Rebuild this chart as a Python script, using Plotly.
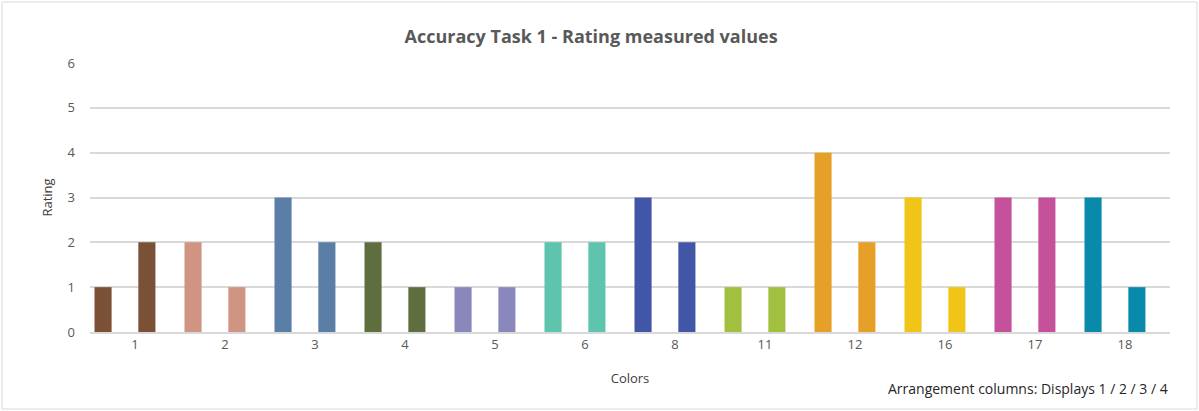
"""Accuracy Task 1 - rating bars per color"""

import plotly.graph_objects as go

colors = ["1", "2", "3", "4", "5", "6", "8", "11", "12", "16", "17", "18"]
display_a = [1, 2, 3, 2, 1, 2, 3, 1, 4, 3, 3, 3]
display_b = [2, 1, 2, 1, 1, 2, 2, 1, 2, 1, 3, 1]
bar_colors = [
    "#7a5036", "#d09483", "#5a7ea6", "#5f6e3f", "#8a87bd", "#5ec4ae",
    "#4256a8", "#a2c03f", "#e7a027", "#f0c518", "#c5519a", "#0a8aab",
]

font = "Open Sans"
grey = "#595959"

fig = go.Figure()

# two bars per color, sitting in slots 1 and 3 of a 4-slot group
fig.add_trace(
    go.Bar(
        x=colors,
        y=display_a,
        marker=dict(color=bar_colors, line=dict(width=0)),
        offset=-0.45,
        width=0.19,
        name="Display A",
    )
)
fig.add_trace(
    go.Bar(
        x=colors,
        y=display_b,
        marker=dict(color=bar_colors, line=dict(width=0)),
        offset=0.037,
        width=0.19,
        name="Display B",
    )
)

fig.update_layout(
    width=1199,
    height=411,
    margin=dict(l=90, r=29, t=63, b=79),
    paper_bgcolor="white",
    plot_bgcolor="white",
    showlegend=False,
    title=dict(
        text="<b>Accuracy Task 1 - Rating measured values</b>",
        x=0.493,
        xanchor="center",
        y=0.91,
        yanchor="middle",
        font=dict(family=font, size=18, color=grey),
    ),
    xaxis=dict(
        type="category",
        range=[-0.5, 11.5],
        automargin=False,
        showgrid=False,
        showline=True,
        linecolor="#d9d9d9",
        linewidth=1.5,
        ticks="",
        tickfont=dict(family=font, size=13, color=grey),
        title=dict(text="Colors", font=dict(family=font, size=13, color="#404040"), standoff=22),
    ),
    yaxis=dict(
        range=[0, 6],
        dtick=1,
        automargin=False,
        showgrid=True,
        gridcolor="#d9d9d9",
        gridwidth=1.5,
        zeroline=False,
        showline=False,
        ticks="",
        ticklabelstandoff=14,
        tickfont=dict(family=font, size=13, color=grey),
        title=dict(text="Rating", font=dict(family=font, size=13, color="#404040"), standoff=12),
    ),
    annotations=[
        dict(
            text="Arrangement columns: Displays 1 / 2 / 3 / 4",
            xref="paper",
            yref="paper",
            x=1.0,
            y=-0.21,
            xanchor="right",
            yanchor="middle",
            showarrow=False,
            font=dict(family=font, size=14, color="#262626"),
        )
    ],
    shapes=[
        dict(
            type="rect",
            xref="paper",
            yref="paper",
            x0=-88 / 1080,
            x1=1107 / 1080,
            y0=-77 / 269,
            y1=61 / 269 + 1,
            line=dict(color="#d9d9d9", width=1),
        )
    ],
)

# drop the page's default body margin so the figure sits at the window's corner
fig.write_html(
    "out.html",
    config={"displayModeBar": False},
    post_script="document.body.style.margin = '0';",
)
